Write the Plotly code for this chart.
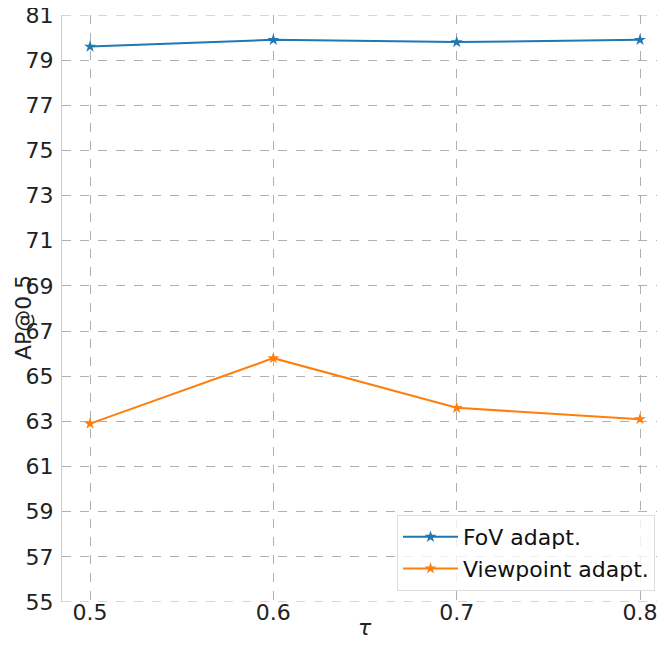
import plotly.graph_objects as go

tau = [0.5, 0.6, 0.7, 0.8]
fov_adapt = [79.6, 79.9, 79.8, 79.9]
viewpoint_adapt = [62.9, 65.8, 63.6, 63.1]
y_ticks = list(range(55, 82, 2))
x_ticks = [0.5, 0.6, 0.7, 0.8]

fig = go.Figure()
fig.add_trace(go.Scatter(x=tau, y=fov_adapt, mode="lines+markers", name="FoV adapt.",
                         line=dict(color="#1f77b4", width=2),
                         marker=dict(symbol="star", size=9, color="#1f77b4")))
fig.add_trace(go.Scatter(x=tau, y=viewpoint_adapt, mode="lines+markers", name="Viewpoint adapt.",
                         line=dict(color="#ff7f0e", width=2),
                         marker=dict(symbol="star", size=9, color="#ff7f0e")))

# dashed grid lines at the two ends of the y range (plotly skips edge grid lines)
for yv in (y_ticks[0], y_ticks[-1]):
    fig.add_shape(type="line", xref="paper", yref="y", x0=0, x1=1, y0=yv, y1=yv,
                  line=dict(color="#b0b0b0", width=1.2, dash="dash"), layer="below")

font = "DejaVu Sans"
W, H = 649, 634
L, T, PW, PH = 54, 7, 595, 587
fig.update_layout(
    width=W, height=H,
    margin=dict(l=L, r=W - L - PW, t=T, b=H - T - PH, autoexpand=False),
    plot_bgcolor="white", paper_bgcolor="white",
    font=dict(family=font, size=22, color="#222"),
    showlegend=True,
    legend=dict(x=(647 - L) / PW, y=(T + PH - 583) / PH, xanchor="right", yanchor="bottom",
                bgcolor="rgba(255,255,255,0.8)", bordercolor="#dddddd", borderwidth=1,
                itemwidth=55,
                font=dict(size=22, color="#111"), tracegroupgap=0),
    annotations=[
        dict(text="AP@0.5", xref="paper", yref="paper", x=(15 - L) / PW, y=(T + PH - 310) / PH,
             xanchor="center", yanchor="middle", textangle=-90, showarrow=False,
             font=dict(size=22, color="#222")),
        dict(text="<i>τ</i>", xref="paper", yref="paper", x=(357 - L) / PW, y=(T + PH - H + 1) / PH,
             xanchor="center", yanchor="bottom", showarrow=False, borderpad=0,
             font=dict(size=22, color="#222")),
    ],
)
fig.update_xaxes(range=[0.48472, 0.80927], tickvals=x_ticks, ticktext=[str(v) for v in x_ticks],
                 showgrid=True, gridcolor="#b0b0b0", griddash="dash", gridwidth=1.2,
                 showline=False, ticks="", zeroline=False,
                 automargin=False, ticklabeloverflow="allow", ticklabelstandoff=-5,
                 tickfont=dict(size=22))
fig.update_yaxes(range=[55, 81], tickvals=y_ticks, ticktext=[str(v) for v in y_ticks],
                 showgrid=True, gridcolor="#b0b0b0", griddash="dash", gridwidth=1.2,
                 showline=True, linecolor="#cccccc", mirror=False, ticks="", zeroline=False,
                 automargin=False, ticklabeloverflow="allow", ticklabelstandoff=3,
                 tickfont=dict(size=22))

fig.write_html("out.html")
